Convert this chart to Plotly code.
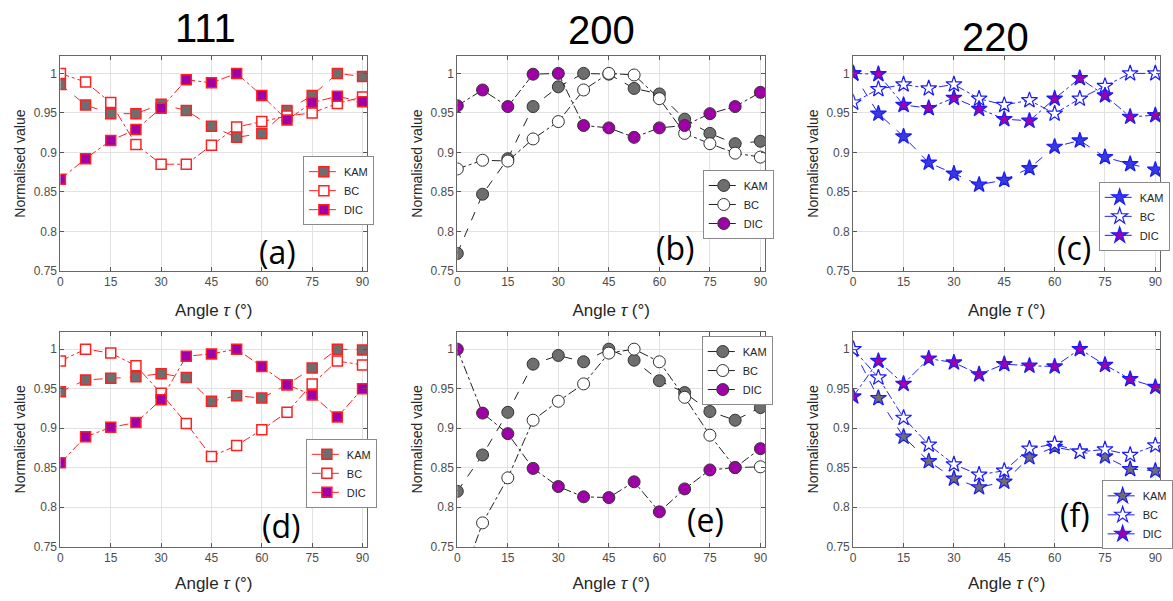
import plotly.graph_objects as go

angles = [0, 7.5, 15, 22.5, 30, 37.5, 45, 52.5, 60, 67.5, 75, 82.5, 90]
series_names = ["KAM", "BC", "DIC"]
col_titles = ["111", "200", "220"]
panel_labels = ["(a)", "(b)", "(c)", "(d)", "(e)", "(f)"]
y_ticks = [0.75, 0.8, 0.85, 0.9, 0.95, 1.0]
y_ticktext = ["0.75", "0.8", "0.85", "0.9", "0.95", "1"]
x_ticks = [0, 15, 30, 45, 60, 75, 90]

# (a) 111 top
a_kam = [0.986, 0.960, 0.949, 0.949, 0.961, 0.953, 0.933, 0.919, 0.924, 0.953, 0.972, 1.000, 0.996]
a_bc = [1.000, 0.989, 0.963, 0.910, 0.885, 0.885, 0.909, 0.932, 0.939, 0.946, 0.950, 0.962, 0.970]
a_dic = [0.866, 0.892, 0.915, 0.929, 0.956, 0.992, 0.988, 1.000, 0.972, 0.941, 0.963, 0.971, 0.964]
# (b) 200 top
b_kam = [0.772, 0.847, 0.892, 0.958, 0.983, 1.000, 0.999, 0.981, 0.974, 0.942, 0.924, 0.911, 0.914]
b_bc = [0.879, 0.890, 0.889, 0.917, 0.939, 0.979, 1.000, 0.998, 0.968, 0.924, 0.911, 0.899, 0.894]
b_dic = [0.959, 0.979, 0.958, 0.999, 1.000, 0.934, 0.931, 0.919, 0.931, 0.934, 0.949, 0.958, 0.976]
# (c) 220 top
c_kam = [1.000, 0.949, 0.920, 0.887, 0.873, 0.859, 0.865, 0.880, 0.907, 0.915, 0.894, 0.885, 0.878]
c_bc = [0.963, 0.980, 0.986, 0.981, 0.986, 0.968, 0.960, 0.966, 0.949, 0.968, 0.984, 1.000, 1.000]
c_dic = [1.000, 0.999, 0.960, 0.956, 0.969, 0.955, 0.942, 0.940, 0.968, 0.994, 0.972, 0.945, 0.947]
# (d) 111 bottom
d_kam = [0.946, 0.961, 0.963, 0.965, 0.969, 0.964, 0.934, 0.941, 0.938, 0.955, 0.976, 1.000, 0.999]
d_bc = [0.985, 1.000, 0.995, 0.979, 0.944, 0.906, 0.864, 0.878, 0.898, 0.920, 0.956, 0.985, 0.980]
d_dic = [0.856, 0.889, 0.901, 0.907, 0.936, 0.991, 0.994, 1.000, 0.978, 0.955, 0.942, 0.914, 0.950]
# (e) 200 bottom
e_kam = [0.820, 0.866, 0.920, 0.981, 0.992, 0.984, 1.000, 0.986, 0.960, 0.945, 0.921, 0.910, 0.926]
e_bc = [0.690, 0.780, 0.837, 0.910, 0.934, 0.956, 0.995, 1.000, 0.984, 0.939, 0.891, 0.850, 0.851]
e_dic = [1.000, 0.919, 0.893, 0.849, 0.826, 0.813, 0.812, 0.832, 0.794, 0.823, 0.847, 0.850, 0.874]
# (f) 220 bottom
f_kam = [1.000, 0.938, 0.889, 0.858, 0.836, 0.825, 0.832, 0.863, 0.876, 0.870, 0.864, 0.848, 0.846]
f_bc = [1.000, 0.964, 0.913, 0.879, 0.854, 0.841, 0.846, 0.874, 0.880, 0.870, 0.873, 0.866, 0.878]
f_dic = [0.940, 0.985, 0.956, 0.988, 0.983, 0.968, 0.981, 0.979, 0.978, 1.000, 0.980, 0.962, 0.952]

panels = [
    [a_kam, a_bc, a_dic], [b_kam, b_bc, b_dic], [c_kam, c_bc, c_dic],
    [d_kam, d_bc, d_dic], [e_kam, e_bc, e_dic], [f_kam, f_bc, f_dic],
]

W, H = 1173, 601
col_px = [(58, 368), (459, 770), (859, 1169)]
row_px = [(57, 274), (336, 553)]

GRAY = "#6e6e6e"
PURPLE = "#a000a8"

def styles(col, row):
    if col == 0:
        sym = "square"; size = 10; lc = "#ff2020"; edge = "#ff2020"; ew = 1.5
        fills = [GRAY, "white", PURPLE]
    elif col == 1:
        sym = "circle"; size = 12; lc = "#222222"; edge = "#333333"; ew = 1
        fills = [GRAY, "white", PURPLE]
    else:
        sym = "star"; size = 12; lc = "#2020ff"; edge = "#1a1aff"; ew = 1.2
        fills = ["#3a3ad8" if row == 0 else GRAY, "white", PURPLE]
    dashes = ["dash", "dashdot", "dashdot"]
    return sym, size, lc, edge, ew, fills, dashes

legend_pos = [
    (303, 158), (707, 172), (1107, 184),
    (306, 444), (706, 340), (1110, 486),
]

fig = go.Figure()
layout = {}
for i, data in enumerate(panels):
    row, col = divmod(i, 3)
    n = i + 1
    xa = "x" if n == 1 else f"x{n}"
    ya = "y" if n == 1 else f"y{n}"
    lg = "legend" if n == 1 else f"legend{n}"
    sym, size, lc, edge, ew, fills, dashes = styles(col, row)
    for k, (name, vals) in enumerate(zip(series_names, data)):
        fig.add_trace(go.Scatter(
            x=angles, y=vals, name=name, mode="lines+markers",
            xaxis=xa, yaxis=ya, legend=lg,
            line=dict(color=lc, width=1, dash=dashes[k]),
            marker=dict(symbol=sym, size=size, color=fills[k],
                        line=dict(color=edge, width=ew)),
            cliponaxis=True,
        ))
    x0, x1 = col_px[col]
    y0, y1 = row_px[row]
    axkey_x = "xaxis" if n == 1 else f"xaxis{n}"
    axkey_y = "yaxis" if n == 1 else f"yaxis{n}"
    layout[axkey_x] = dict(
        domain=[x0 / W, x1 / W], anchor=ya, range=[0, 91.4],
        tickvals=x_ticks, ticks="inside", ticklen=4, tickcolor="#555",
        showline=True, mirror="allticks", linecolor="#666", linewidth=1,
        showgrid=True, gridcolor="#e2e2e2", zeroline=False,
        tickfont=dict(family="Liberation Sans", size=12, color="#4d4d4d"),
        title=dict(text="Angle <i>τ</i> (°)", standoff=15 if row == 0 else 13,
                   font=dict(family="Liberation Sans", size=17, color="#262626")),
    )
    layout[axkey_y] = dict(
        domain=[1 - y1 / H, 1 - y0 / H], anchor=xa, range=[0.75, 1.0216],
        tickvals=y_ticks, ticktext=y_ticktext, ticks="inside", ticklen=4, tickcolor="#555",
        showline=True, mirror="allticks", linecolor="#666", linewidth=1,
        showgrid=True, gridcolor="#e2e2e2", zeroline=False,
        tickfont=dict(family="Liberation Sans", size=12, color="#4d4d4d"),
        title=dict(text="Normalised value", standoff=4,
                   font=dict(family="Liberation Sans", size=14, color="#262626")),
    )
    lx, ly = legend_pos[i]
    layout[lg] = dict(
        x=lx / W, y=1 - ly / H, xanchor="left", yanchor="top",
        bgcolor="white", bordercolor="#8a8a8a", borderwidth=1,
        font=dict(family="Liberation Sans", size=11, color="#262626"),
        tracegroupgap=0, itemwidth=30, traceorder="normal",
    )

annotations = []
title_pos = [(205, 28), (605, 30), (1003, 37)]
for t, (cx, cy) in zip(col_titles, title_pos):
    annotations.append(dict(text=t, x=cx / W, y=1 - cy / H, xref="paper", yref="paper",
                            showarrow=False, xanchor="center", yanchor="middle",
                            font=dict(family="Liberation Sans", size=40, color="black")))
label_pos = [(277, 254), (679, 250), (1082, 250), (281, 532), (710, 526), (1083, 521)]
for t, (cx, cy) in zip(panel_labels, label_pos):
    annotations.append(dict(text=t, x=cx / W, y=1 - cy / H, xref="paper", yref="paper",
                            showarrow=False, xanchor="center", yanchor="middle",
                            font=dict(family="Open Sans", size=32, color="black")))

fig.update_layout(
    width=W, height=H, margin=dict(l=0, r=0, t=0, b=0),
    paper_bgcolor="white", plot_bgcolor="white",
    annotations=annotations, **layout,
)
fig.write_html("out.html")
